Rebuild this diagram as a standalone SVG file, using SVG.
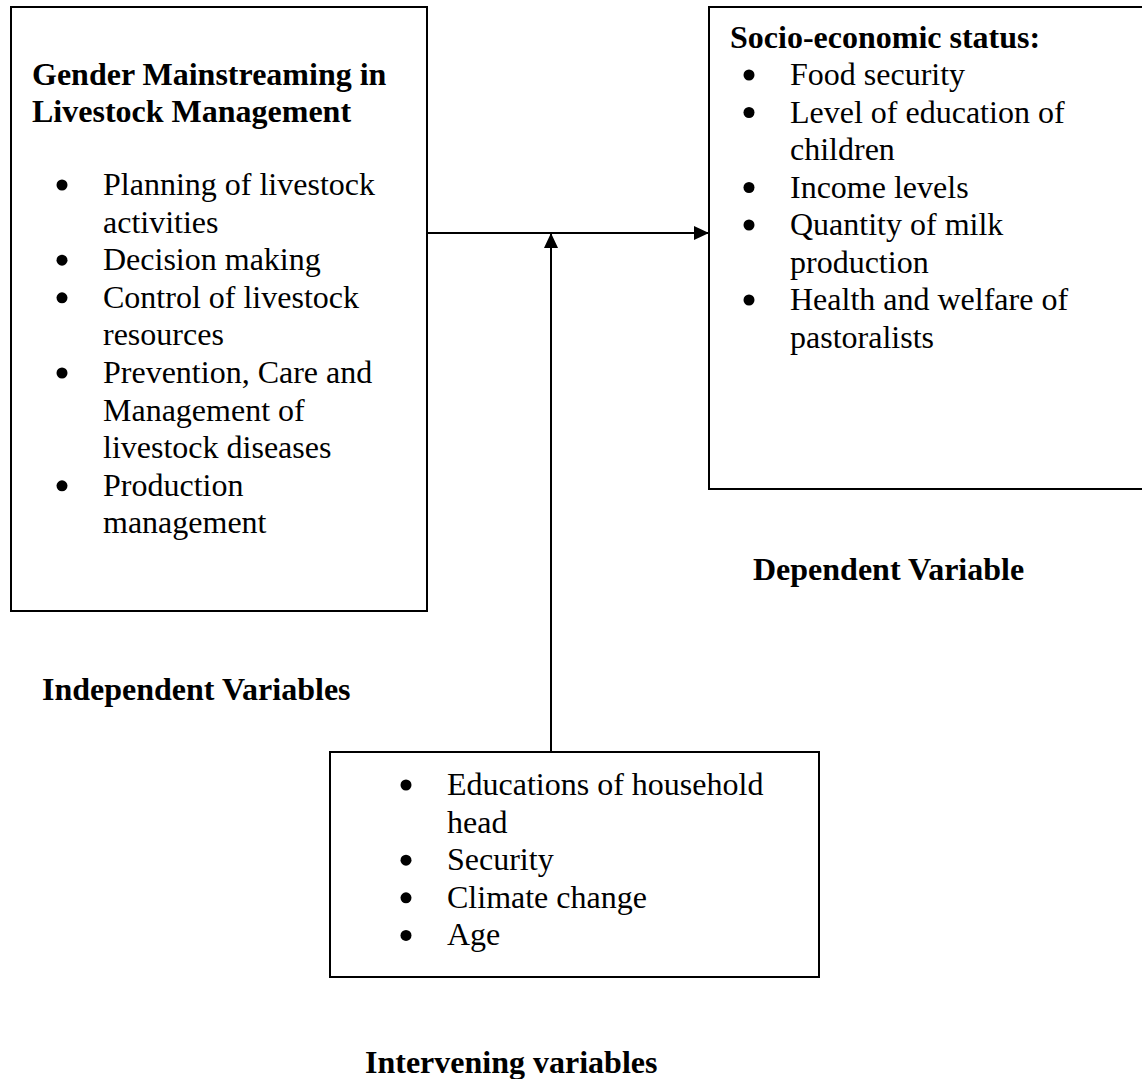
<svg xmlns="http://www.w3.org/2000/svg" width="1142" height="1079" viewBox="0 0 1142 1079">
<style>
text{font-family:"Liberation Serif","Times New Roman",serif;font-size:32px;fill:#000}
.b{font-weight:bold}
.box{fill:#fff;stroke:#000;stroke-width:2}
.dot{fill:#000}
.conn{stroke:#000;stroke-width:2;fill:none}
</style>
<defs>
<marker id="ah" markerWidth="15" markerHeight="14" refX="15" refY="7" orient="auto" markerUnits="userSpaceOnUse">
<path d="M0,0 L15,7 L0,14 Z" fill="#000"/>
</marker>
</defs>
<rect width="1142" height="1079" fill="#fff"/>
<g id="independent">
<rect class="box" x="11" y="7" width="416" height="604"/>
<text class="b" x="32" y="85">Gender Mainstreaming in</text>
<text class="b" x="32" y="122">Livestock Management</text>
<circle class="dot" cx="62" cy="185" r="5.5"/>
<text x="103" y="195">Planning of livestock</text>
<text x="103" y="232.6">activities</text>
<circle class="dot" cx="62" cy="260.2" r="5.5"/>
<text x="103" y="270.2">Decision making</text>
<circle class="dot" cx="62" cy="297.8" r="5.5"/>
<text x="103" y="307.8">Control of livestock</text>
<text x="103" y="345.4">resources</text>
<circle class="dot" cx="62" cy="373" r="5.5"/>
<text x="103" y="383">Prevention, Care and</text>
<text x="103" y="420.6">Management of</text>
<text x="103" y="458.2">livestock diseases</text>
<circle class="dot" cx="62" cy="485.8" r="5.5"/>
<text x="103" y="495.8">Production</text>
<text x="103" y="533.4">management</text>
</g>
<g id="dependent">
<rect class="box" x="709" y="7" width="440" height="482"/>
<text class="b" x="730" y="48">Socio-economic status:</text>
<circle class="dot" cx="749" cy="75" r="5.5"/>
<text x="790" y="85">Food security</text>
<circle class="dot" cx="749" cy="112.5" r="5.5"/>
<text x="790" y="122.5">Level of education of</text>
<text x="790" y="160">children</text>
<circle class="dot" cx="749" cy="187.5" r="5.5"/>
<text x="790" y="197.5">Income levels</text>
<circle class="dot" cx="749" cy="225" r="5.5"/>
<text x="790" y="235">Quantity of milk</text>
<text x="790" y="272.5">production</text>
<circle class="dot" cx="749" cy="300" r="5.5"/>
<text x="790" y="310">Health and welfare of</text>
<text x="790" y="347.5">pastoralists</text>
</g>
<g id="intervening">
<rect class="box" x="330" y="752" width="489" height="225"/>
<circle class="dot" cx="406" cy="785" r="5.5"/>
<text x="447" y="795">Educations of household</text>
<text x="447" y="832.6">head</text>
<circle class="dot" cx="406" cy="860.2" r="5.5"/>
<text x="447" y="870.2">Security</text>
<circle class="dot" cx="406" cy="897.8" r="5.5"/>
<text x="447" y="907.8">Climate change</text>
<circle class="dot" cx="406" cy="935.4" r="5.5"/>
<text x="447" y="945.4">Age</text>
</g>
<g id="labels">
<text class="b" x="42" y="700">Independent Variables</text>
<text class="b" x="753" y="580">Dependent Variable</text>
<text class="b" x="365" y="1073">Intervening variables</text>
</g>
<g id="connectors">
<line class="conn" x1="427" y1="233" x2="709" y2="233" marker-end="url(#ah)"/>
<line class="conn" x1="551" y1="752" x2="551" y2="233" marker-end="url(#ah)"/>
</g>
</svg>
